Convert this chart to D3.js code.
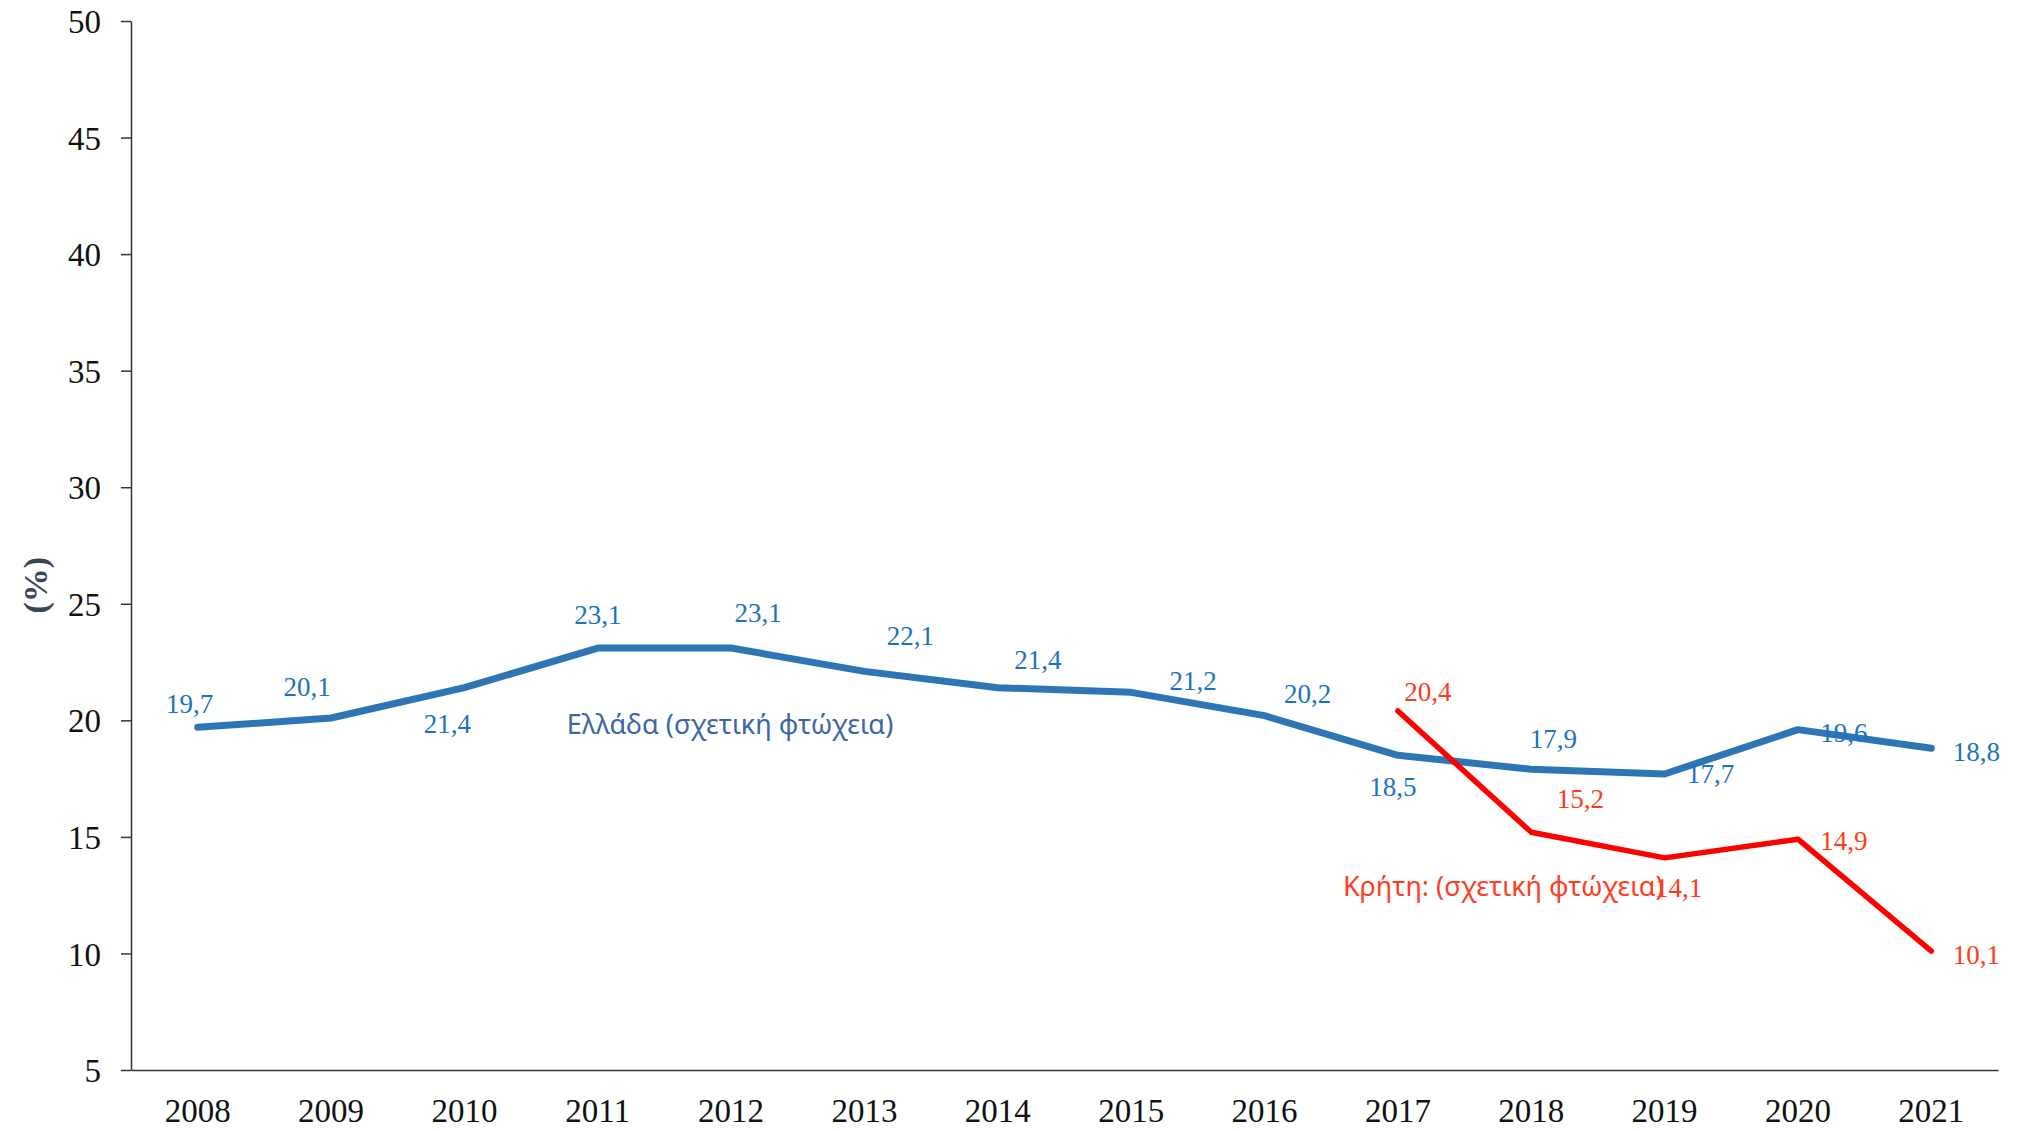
<!DOCTYPE html>
<html lang="el">
<head>
<meta charset="UTF-8">
<title>Σχετική φτώχεια</title>
<script src="https://cdn.jsdelivr.net/npm/d3@7"></script>
<style>
    body { margin: 0; background: #fff; }
    .axis text { font-family: "Liberation Serif", "DejaVu Serif", serif; font-size: 33px; fill: #111; }
    .axis path, .axis line { stroke: #333; stroke-width: 1.5px; }
    .lbl { font-family: "Liberation Serif", serif; font-size: 27px; }
    .name { font-family: "Noto Sans", "Open Sans", sans-serif; font-size: 27px; }
</style>
</head>
<body>
<svg id="chart" width="2021" height="1131"></svg>
<script>
// data
var years = ["2008", "2009", "2010", "2011", "2012", "2013", "2014", "2015", "2016", "2017", "2018", "2019", "2020", "2021"];
var greece = [19.7, 20.1, 21.4, 23.1, 23.1, 22.1, 21.4, 21.2, 20.2, 18.5, 17.9, 17.7, 19.6, 18.8];
var creteYears = ["2017", "2018", "2019", "2020", "2021"];
var crete = [20.4, 15.2, 14.1, 14.9, 10.1];
var yTicks = [5, 10, 15, 20, 25, 30, 35, 40, 45, 50];
var greeceName = "Ελλάδα (σχετική φτώχεια)";
var creteName = "Κρήτη: (σχετική φτώχεια)";

// label offsets (px) from each point
var greeceOff = [[-8, -24], [-24, -31], [-17, 36], [0, -34], [27, -36], [46, -36], [40, -28],
                 [62, -12], [43, -22], [-5, 31], [22, -31], [46, 0], [46, 3], [45, 3]];
var creteOff = [[30, -19], [49, -34], [14, 30], [46, 1], [45, 3]];

var svg = d3.select("#chart");
var mLeft = 131, mRight = 1998, mTop = 21, mBottom = 1070;

var x = d3.scaleBand().domain(years).range([mLeft, mRight]).padding(0);
var xc = function(d) { return x(d) + x.bandwidth() / 2; };
var y = d3.scaleLinear().domain([5, 50]).range([mBottom, mTop]);

// axes
svg.append("g")
    .attr("class", "axis")
    .attr("transform", "translate(" + mLeft + ",0)")
    .call(d3.axisLeft(y).tickValues(yTicks).tickSize(10).tickPadding(20).tickSizeOuter(0))
    .call(function(g) { g.selectAll("text").attr("dy", "0.35em"); });

svg.append("g")
    .attr("class", "axis")
    .attr("transform", "translate(0," + mBottom + ")")
    .call(d3.axisBottom(x).tickSize(0).tickPadding(29).tickSizeOuter(0));

svg.append("text")
    .attr("transform", "translate(35," + y(25.8) + ") rotate(-90)")
    .attr("text-anchor", "middle")
    .attr("dy", "0.35em")
    .style("font-family", "Liberation Serif, serif")
    .style("font-weight", "bold")
    .style("font-size", "34px")
    .style("fill", "#3b4556")
    .text("(%)");

// lines
var line = d3.line()
    .x(function(d) { return xc(d[0]); })
    .y(function(d) { return y(d[1]); });

svg.append("path")
    .datum(d3.zip(years, greece))
    .attr("d", line)
    .attr("fill", "none")
    .attr("stroke", "#2e75b6")
    .attr("stroke-width", 7)
    .attr("stroke-linecap", "round")
    .attr("stroke-linejoin", "round");

svg.append("path")
    .datum(d3.zip(creteYears, crete))
    .attr("d", line)
    .attr("fill", "none")
    .attr("stroke", "#ff0000")
    .attr("stroke-width", 5.5)
    .attr("stroke-linecap", "round")
    .attr("stroke-linejoin", "round");

function fmt(v) { return d3.format(".1f")(v).replace(".", ","); }

// data labels
svg.selectAll(".gl")
    .data(d3.zip(years, greece))
    .enter().append("text")
    .attr("class", "lbl")
    .attr("x", function(d, i) { return xc(d[0]) + greeceOff[i][0]; })
    .attr("y", function(d, i) { return y(d[1]) + greeceOff[i][1]; })
    .attr("text-anchor", "middle")
    .attr("dy", "0.35em")
    .attr("fill", "#1a73c2")
    .text(function(d) { return fmt(d[1]); });

svg.selectAll(".cl")
    .data(d3.zip(creteYears, crete))
    .enter().append("text")
    .attr("class", "lbl")
    .attr("x", function(d, i) { return xc(d[0]) + creteOff[i][0]; })
    .attr("y", function(d, i) { return y(d[1]) + creteOff[i][1]; })
    .attr("text-anchor", "middle")
    .attr("dy", "0.35em")
    .attr("fill", "#ff3a17")
    .text(function(d) { return fmt(d[1]); });

// series names
svg.append("text")
    .attr("class", "name")
    .attr("x", xc("2011") - 31)
    .attr("y", y(20) + 4)
    .attr("dy", "0.35em")
    .attr("fill", "#3b67a6")
    .text(greeceName);

svg.append("text")
    .attr("class", "name")
    .attr("x", xc("2017") - 55)
    .attr("y", y(13) + 3)
    .attr("dy", "0.35em")
    .attr("fill", "#ff3d1f")
    .text(creteName);
</script>
</body>
</html>
